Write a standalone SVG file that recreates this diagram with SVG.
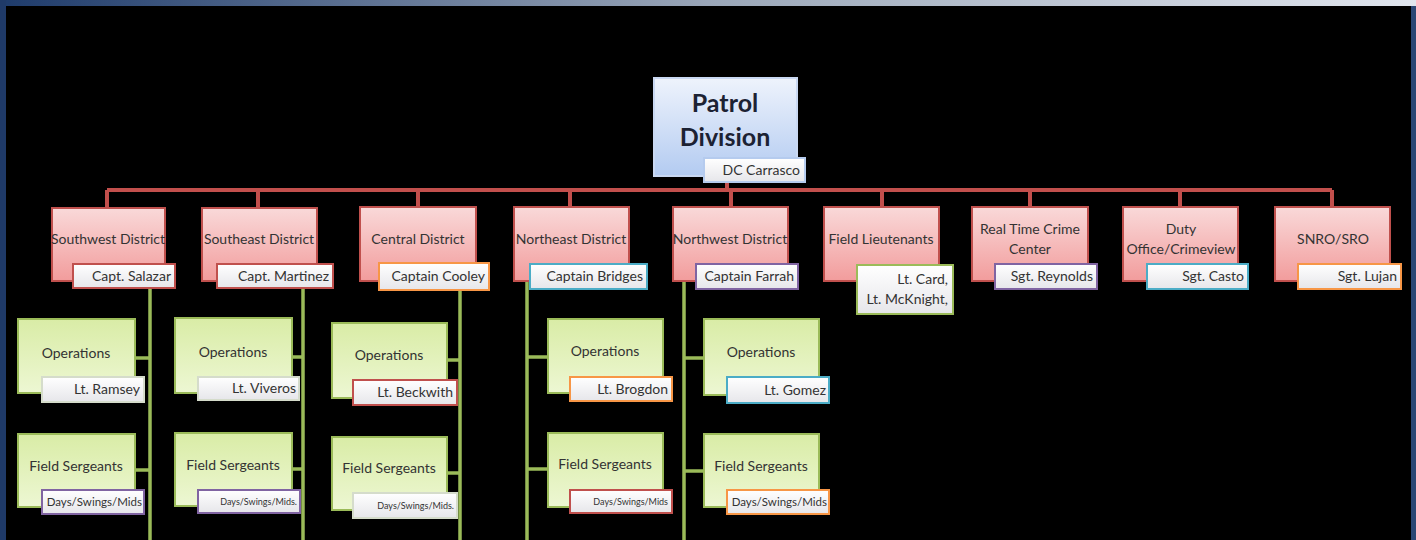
<svg xmlns="http://www.w3.org/2000/svg" width="1416" height="540" viewBox="0 0 1416 540">
<defs>
<linearGradient id="hdr" x1="0" y1="0" x2="1" y2="0"><stop offset="0" stop-color="#1e3b6b"/><stop offset="0.5" stop-color="#9aa6b8"/><stop offset="1" stop-color="#e1e6ee"/></linearGradient>
<linearGradient id="blue" x1="0" y1="0" x2="0" y2="1"><stop offset="0" stop-color="#eef3fc"/><stop offset="1" stop-color="#b3cbf1"/></linearGradient>
<linearGradient id="pink" x1="0" y1="0" x2="0" y2="1"><stop offset="0" stop-color="#f9d9d9"/><stop offset="1" stop-color="#f29c9c"/></linearGradient>
<linearGradient id="green" x1="0" y1="0" x2="0" y2="1"><stop offset="0" stop-color="#d9eca6"/><stop offset="1" stop-color="#edf7d3"/></linearGradient>
<linearGradient id="sub" x1="0" y1="0" x2="0" y2="1"><stop offset="0" stop-color="#ffffff"/><stop offset="1" stop-color="#e6e6ea"/></linearGradient>
</defs>
<style>
.t{font-family:Lato,"Liberation Sans",sans-serif;fill:#333333;font-size:14px}
.c{text-anchor:middle}
.r{text-anchor:end;font-size:14px}
.s{font-size:9px}
.m{font-size:11.5px}
.pk{fill:url(#pink);stroke:#c0504d;stroke-width:2}
.gr{fill:url(#green);stroke:#9bbb59;stroke-width:2}
.sb{fill:url(#sub);stroke-width:2}
.red{stroke:#c0504d}
.org{stroke:#f79646}
.teal{stroke:#4bacc6}
.pur{stroke:#8064a2}
.grn{stroke:#9bbb59}
.wht{stroke:#d5dccb}
.lb{stroke:#b5cbee}
.rl{stroke:#c24f4c;stroke-width:4;fill:none}
.gl{stroke:#9bbb59;stroke-width:3.5;fill:none}
.h{font-family:Lato,"Liberation Sans",sans-serif;font-weight:bold;font-size:25px;fill:#1c2233;text-anchor:middle}
</style>
<rect x="0" y="0" width="1416" height="540" fill="#000"/>
<rect x="0" y="0" width="1416" height="6" fill="url(#hdr)"/>
<rect x="0" y="0" width="6" height="540" fill="#1f3a68"/>
<rect x="1411" y="6" width="5" height="534" fill="#2a4674"/>

<g id="connectors">
<path class="rl" d="M727 180V190M107 190H1332M107 190V208M258 190V208M418 190V208M570 190V208M731 190V208M882 190V208M1030 190V208M1180 190V208M1332 190V208"/>
<path class="gl" d="M150 282V540M135 358H150M135 470H150"/>
<path class="gl" d="M303 282V540M292 357H303M292 469H303"/>
<path class="gl" d="M460 282V540M447 360H460M447 473H460"/>
<path class="gl" d="M527 282V540M527 357H548M527 469H548"/>
<path class="gl" d="M684 282V540M684 358H704M684 471H704"/>
</g>

<g id="patrol">
<rect x="654" y="78" width="143" height="98" fill="url(#blue)" stroke="#c9d8f2" stroke-width="2"/>
<text x="725" y="112" class="h">Patrol</text>
<text x="725" y="146" class="h">Division</text>
<rect x="704" y="158" width="101" height="24" class="sb lb"/>
<text x="800" y="175" class="t r">DC Carrasco</text>
</g>

<g id="southwest">
<rect x="52" y="208" width="113" height="73" class="pk"/>
<text x="108" y="244" class="t c">Southwest District</text>
<rect x="73" y="264" width="102" height="24" class="sb red"/>
<text x="171" y="281" class="t r">Capt. Salazar</text>
</g>
<g id="southeast">
<rect x="202" y="208" width="115" height="73" class="pk"/>
<text x="259" y="244" class="t c">Southeast District</text>
<rect x="217" y="264" width="116" height="24" class="sb red"/>
<text x="329" y="281" class="t r">Capt. Martinez</text>
</g>
<g id="central">
<rect x="360" y="207" width="116" height="74" class="pk"/>
<text x="418" y="244" class="t c">Central District</text>
<rect x="379" y="263" width="110" height="27" class="sb org"/>
<text x="485" y="281" class="t r">Captain Cooley</text>
</g>
<g id="northeast">
<rect x="514" y="207" width="115" height="74" class="pk"/>
<text x="571" y="244" class="t c">Northeast District</text>
<rect x="530" y="264" width="117" height="25" class="sb teal"/>
<text x="643" y="281" class="t r">Captain Bridges</text>
</g>
<g id="northwest">
<rect x="673" y="207" width="115" height="74" class="pk"/>
<text x="730" y="244" class="t c">Northwest District</text>
<rect x="696" y="264" width="102" height="25" class="sb pur"/>
<text x="794" y="281" class="t r">Captain Farrah</text>
</g>
<g id="fieldlt">
<rect x="824" y="207" width="115" height="74" class="pk"/>
<text x="881" y="244" class="t c">Field Lieutenants</text>
<rect x="857" y="265" width="96" height="49" class="sb grn"/>
<text x="948" y="284" class="t r">Lt. Card,</text>
<text x="948" y="304" class="t r">Lt. McKnight,</text>
</g>
<g id="rtcc">
<rect x="972" y="207" width="116" height="74" class="pk"/>
<text x="1030" y="234" class="t c">Real Time Crime</text>
<text x="1030" y="254" class="t c">Center</text>
<rect x="995" y="264" width="102" height="25" class="sb pur"/>
<text x="1093" y="281" class="t r">Sgt. Reynolds</text>
</g>
<g id="duty">
<rect x="1123" y="207" width="115" height="74" class="pk"/>
<text x="1181" y="234" class="t c">Duty</text>
<text x="1181" y="254" class="t c">Office/Crimeview</text>
<rect x="1147" y="264" width="101" height="25" class="sb teal"/>
<text x="1244" y="281" class="t r">Sgt. Casto</text>
</g>
<g id="snro">
<rect x="1275" y="207" width="115" height="74" class="pk"/>
<text x="1333" y="244" class="t c">SNRO/SRO</text>
<rect x="1298" y="264" width="103" height="25" class="sb org"/>
<text x="1397" y="281" class="t r">Sgt. Lujan</text>
</g>

<g id="sw-ops">
<rect x="18" y="319" width="117" height="74" class="gr"/>
<text x="76" y="358" class="t c">Operations</text>
<rect x="42" y="377" width="102" height="25" class="sb wht"/>
<text x="140" y="394" class="t r">Lt. Ramsey</text>
</g>
<g id="sw-sgt">
<rect x="18" y="434" width="117" height="73" class="gr"/>
<text x="76" y="471" class="t c">Field Sergeants</text>
<rect x="42" y="490" width="102" height="24" class="sb pur"/>
<text x="142" y="506" class="t r m">Days/Swings/Mids</text>
</g>
<g id="se-ops">
<rect x="175" y="318" width="117" height="75" class="gr"/>
<text x="233" y="357" class="t c">Operations</text>
<rect x="198" y="377" width="101" height="23" class="sb wht"/>
<text x="296" y="393" class="t r">Lt. Viveros</text>
</g>
<g id="se-sgt">
<rect x="175" y="433" width="117" height="73" class="gr"/>
<text x="233" y="470" class="t c">Field Sergeants</text>
<rect x="198" y="490" width="102" height="23" class="sb pur"/>
<text x="297" y="505" class="t r s">Days/Swings/Mids.</text>
</g>
<g id="c-ops">
<rect x="332" y="323" width="115" height="75" class="gr"/>
<text x="389" y="360" class="t c">Operations</text>
<rect x="353" y="380" width="104" height="25" class="sb red"/>
<text x="453" y="397" class="t r">Lt. Beckwith</text>
</g>
<g id="c-sgt">
<rect x="332" y="437" width="115" height="73" class="gr"/>
<text x="389" y="473" class="t c">Field Sergeants</text>
<rect x="353" y="493" width="104" height="25" class="sb wht"/>
<text x="454" y="509" class="t r s">Days/Swings/Mids.</text>
</g>
<g id="ne-ops">
<rect x="548" y="319" width="115" height="74" class="gr"/>
<text x="605" y="356" class="t c">Operations</text>
<rect x="570" y="377" width="102" height="24" class="sb org"/>
<text x="668" y="394" class="t r">Lt. Brogdon</text>
</g>
<g id="ne-sgt">
<rect x="548" y="433" width="115" height="74" class="gr"/>
<text x="605" y="469" class="t c">Field Sergeants</text>
<rect x="570" y="490" width="102" height="23" class="sb red"/>
<text x="668" y="505" class="t r s">Days/Swings/Mids</text>
</g>
<g id="nw-ops">
<rect x="704" y="319" width="115" height="76" class="gr"/>
<text x="761" y="357" class="t c">Operations</text>
<rect x="727" y="377" width="102" height="26" class="sb teal"/>
<text x="826" y="395" class="t r">Lt. Gomez</text>
</g>
<g id="nw-sgt">
<rect x="704" y="434" width="115" height="73" class="gr"/>
<text x="761" y="471" class="t c">Field Sergeants</text>
<rect x="727" y="490" width="102" height="24" class="sb org"/>
<text x="827" y="506" class="t r m">Days/Swings/Mids</text>
</g>
</svg>
